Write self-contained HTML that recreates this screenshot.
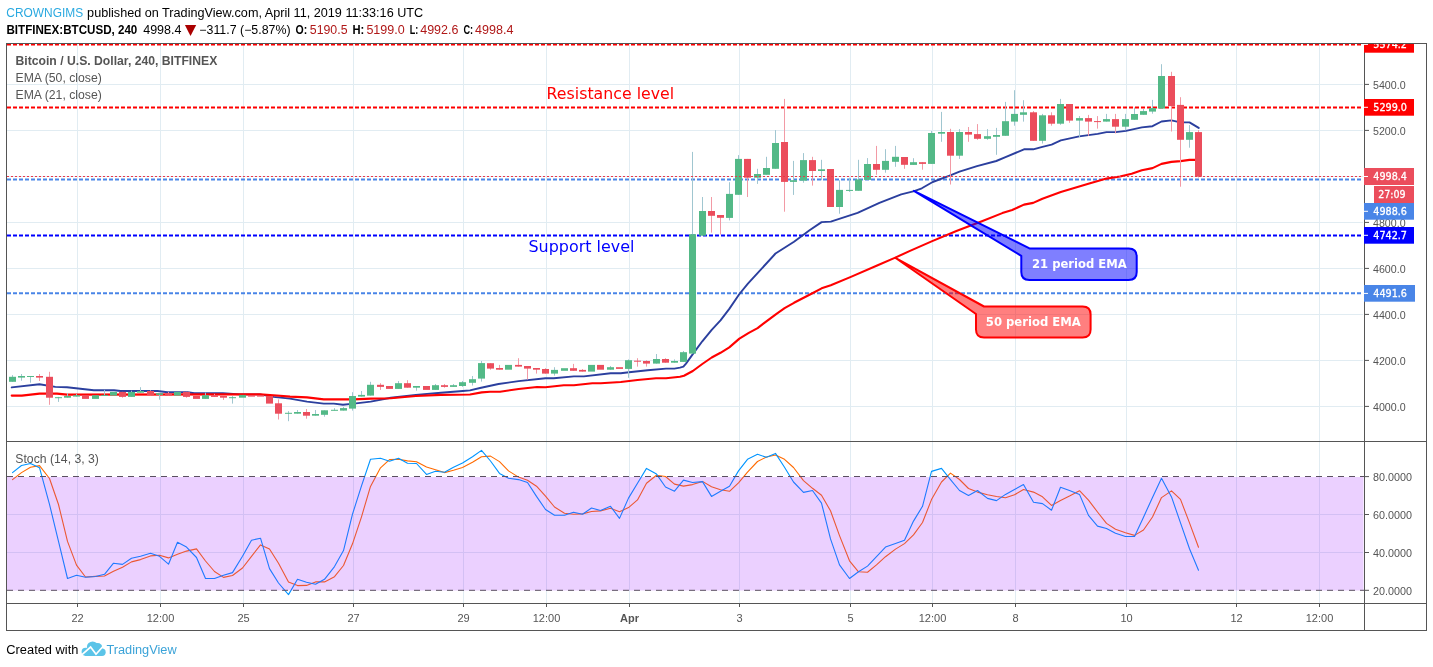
<!DOCTYPE html>
<html><head><meta charset="utf-8"><title>BTCUSD chart</title>
<style>html,body{margin:0;padding:0;background:#fff}svg{display:block}</style></head>
<body>
<svg width="1433" height="667" viewBox="0 0 1433 667">
<rect width="1433" height="667" fill="#fff"/>
<g stroke="#e1ecf2" stroke-width="1">
<line x1="77.5" y1="44" x2="77.5" y2="441"/>
<line x1="77.5" y1="442" x2="77.5" y2="603"/>
<line x1="160.5" y1="44" x2="160.5" y2="441"/>
<line x1="160.5" y1="442" x2="160.5" y2="603"/>
<line x1="243.5" y1="44" x2="243.5" y2="441"/>
<line x1="243.5" y1="442" x2="243.5" y2="603"/>
<line x1="353.5" y1="44" x2="353.5" y2="441"/>
<line x1="353.5" y1="442" x2="353.5" y2="603"/>
<line x1="463.5" y1="44" x2="463.5" y2="441"/>
<line x1="463.5" y1="442" x2="463.5" y2="603"/>
<line x1="546.5" y1="44" x2="546.5" y2="441"/>
<line x1="546.5" y1="442" x2="546.5" y2="603"/>
<line x1="629.5" y1="44" x2="629.5" y2="441"/>
<line x1="629.5" y1="442" x2="629.5" y2="603"/>
<line x1="739.5" y1="44" x2="739.5" y2="441"/>
<line x1="739.5" y1="442" x2="739.5" y2="603"/>
<line x1="850.5" y1="44" x2="850.5" y2="441"/>
<line x1="850.5" y1="442" x2="850.5" y2="603"/>
<line x1="932.5" y1="44" x2="932.5" y2="441"/>
<line x1="932.5" y1="442" x2="932.5" y2="603"/>
<line x1="1015.5" y1="44" x2="1015.5" y2="441"/>
<line x1="1015.5" y1="442" x2="1015.5" y2="603"/>
<line x1="1126.5" y1="44" x2="1126.5" y2="441"/>
<line x1="1126.5" y1="442" x2="1126.5" y2="603"/>
<line x1="1236.5" y1="44" x2="1236.5" y2="441"/>
<line x1="1236.5" y1="442" x2="1236.5" y2="603"/>
<line x1="1319.5" y1="44" x2="1319.5" y2="441"/>
<line x1="1319.5" y1="442" x2="1319.5" y2="603"/>
<line x1="7" y1="84.5" x2="1363" y2="84.5"/>
<line x1="7" y1="130.5" x2="1363" y2="130.5"/>
<line x1="7" y1="176.5" x2="1363" y2="176.5"/>
<line x1="7" y1="222.5" x2="1363" y2="222.5"/>
<line x1="7" y1="268.5" x2="1363" y2="268.5"/>
<line x1="7" y1="314.5" x2="1363" y2="314.5"/>
<line x1="7" y1="360.5" x2="1363" y2="360.5"/>
<line x1="7" y1="406.5" x2="1363" y2="406.5"/>
<line x1="7" y1="514.5" x2="1363" y2="514.5"/>
<line x1="7" y1="552.5" x2="1363" y2="552.5"/>
</g>
<polyline points="12.5,479.6 21.5,472.6 30.5,467.2 39.5,465.6 49.5,478.5 58.5,504.5 67.5,541.4 76.5,565.1 85.5,577.0 95.5,576.4 104.5,576.0 113.5,571.3 122.5,567.3 131.5,561.9 140.5,559.6 150.5,555.9 159.5,555.3 168.5,557.9 177.5,554.2 186.5,551.1 196.5,548.9 205.5,561.0 214.5,571.5 223.5,577.4 232.5,575.5 242.5,568.0 251.5,556.3 260.5,544.9 269.5,549.0 278.5,563.3 288.5,582.1 297.5,585.6 306.5,585.4 315.5,581.9 324.5,581.9 334.5,576.7 343.5,565.5 352.5,543.8 361.5,516.8 370.5,486.4 380.5,467.8 389.5,459.6 398.5,459.3 407.5,460.9 416.5,461.7 426.5,467.0 435.5,469.7 444.5,472.6 453.5,470.2 462.5,467.5 472.5,462.3 481.5,456.7 490.5,456.1 499.5,461.6 508.5,470.9 518.5,477.1 527.5,480.2 536.5,486.2 545.5,496.1 554.5,507.0 564.5,513.3 573.5,514.2 582.5,513.9 591.5,511.5 600.5,510.9 610.5,508.3 619.5,511.7 628.5,507.6 637.5,499.9 646.5,483.3 656.5,475.3 665.5,476.5 674.5,484.1 683.5,486.1 692.5,484.6 702.5,481.4 711.5,486.8 720.5,489.7 729.5,491.3 738.5,482.8 747.5,472.2 757.5,461.5 766.5,457.0 775.5,455.0 784.5,459.3 793.5,467.5 803.5,480.6 812.5,488.3 821.5,495.3 830.5,510.8 839.5,535.6 849.5,560.8 858.5,571.8 867.5,572.2 876.5,564.9 885.5,556.7 895.5,549.1 904.5,543.6 913.5,534.9 922.5,522.5 931.5,499.6 941.5,482.0 950.5,473.1 959.5,479.5 968.5,488.5 977.5,492.1 987.5,494.7 996.5,496.5 1005.5,497.8 1014.5,494.8 1023.5,489.5 1033.5,492.1 1042.5,496.8 1051.5,505.4 1060.5,500.4 1069.5,496.0 1079.5,490.7 1088.5,500.1 1097.5,512.0 1106.5,523.4 1115.5,529.3 1125.5,532.8 1134.5,535.4 1143.5,530.0 1152.5,517.0 1161.5,497.6 1171.5,490.9 1180.5,499.4 1189.5,522.9 1198.5,547.3" fill="none" stroke="#ff6a00" stroke-width="1.1" stroke-linejoin="round" stroke-linecap="round"/>
<polyline points="12.5,472.6 21.5,465.5 30.5,463.5 39.5,467.7 49.5,504.3 58.5,541.4 67.5,578.5 76.5,575.3 85.5,577.3 95.5,576.5 104.5,574.3 113.5,563.2 122.5,564.4 131.5,558.2 140.5,556.3 150.5,553.3 159.5,556.3 168.5,564.2 177.5,542.2 186.5,547.1 196.5,557.5 205.5,578.5 214.5,578.5 223.5,575.3 232.5,572.6 242.5,556.3 251.5,540.2 260.5,538.2 269.5,568.6 278.5,583.0 288.5,594.6 297.5,579.3 306.5,582.2 315.5,584.2 324.5,579.3 334.5,566.6 343.5,550.6 352.5,514.2 361.5,485.8 370.5,459.3 380.5,458.3 389.5,461.3 398.5,458.3 407.5,463.3 416.5,463.5 426.5,474.4 435.5,471.2 444.5,472.2 453.5,467.2 462.5,463.0 472.5,456.8 481.5,450.4 490.5,461.0 499.5,473.4 508.5,478.3 518.5,479.6 527.5,482.5 536.5,496.4 545.5,509.5 554.5,515.2 564.5,515.2 573.5,512.2 582.5,514.2 591.5,508.0 600.5,510.5 610.5,506.3 619.5,518.4 628.5,498.1 637.5,483.3 646.5,468.4 656.5,474.1 665.5,487.0 674.5,491.2 683.5,480.1 692.5,482.5 702.5,481.6 711.5,496.4 720.5,491.2 729.5,486.3 738.5,470.9 747.5,459.3 757.5,454.3 766.5,457.3 775.5,453.4 784.5,467.2 793.5,482.0 803.5,492.4 812.5,490.5 821.5,503.1 830.5,538.9 839.5,564.9 849.5,578.5 858.5,571.8 867.5,566.1 876.5,556.7 885.5,547.1 895.5,543.4 904.5,540.2 913.5,521.1 922.5,506.3 931.5,471.4 941.5,468.4 950.5,479.6 959.5,490.5 968.5,495.4 977.5,490.5 987.5,498.4 996.5,500.6 1005.5,494.4 1014.5,489.5 1023.5,484.5 1033.5,502.3 1042.5,503.6 1051.5,510.2 1060.5,487.2 1069.5,490.5 1079.5,494.4 1088.5,515.4 1097.5,526.1 1106.5,528.5 1115.5,533.2 1125.5,536.5 1134.5,536.5 1143.5,517.2 1152.5,497.4 1161.5,478.3 1171.5,496.9 1180.5,522.9 1189.5,548.8 1198.5,570.3" fill="none" stroke="#0094ff" stroke-width="1.1" stroke-linejoin="round" stroke-linecap="round"/>
<rect x="7" y="477" width="1356.5" height="113.5" fill="rgb(153,21,255)" fill-opacity="0.2"/>
<g stroke="#5a5060" stroke-width="1" stroke-dasharray="6 5">
<line x1="7" y1="476.5" x2="1364" y2="476.5"/>
<line x1="7" y1="590.3" x2="1364" y2="590.3"/>
</g>
<line x1="7" y1="44.5" x2="1363" y2="44.5" stroke="#ff0000" stroke-width="2" stroke-dasharray="4 2"/>
<line x1="7" y1="107.5" x2="1363" y2="107.5" stroke="#ff0000" stroke-width="2" stroke-dasharray="4 2"/>
<line x1="7" y1="235.5" x2="1363" y2="235.5" stroke="#0000ff" stroke-width="2" stroke-dasharray="4 2"/>
<line x1="7" y1="293.3" x2="1363" y2="293.3" stroke="#4985e7" stroke-width="2" stroke-dasharray="4 2"/>
<line x1="7" y1="179.4" x2="1363" y2="179.4" stroke="#4985e7" stroke-width="2" stroke-dasharray="4 2"/>
<polyline points="11.7,387.4 39.5,384.3 55.3,386.9 67.0,387.2 93.8,390.2 114.0,390.2 120.6,391.0 157.5,391.0 167.5,392.2 187.6,392.2 194.3,393.2 222.8,393.2 240.0,394.4 260.0,394.4 273.5,396.9 290.0,398.6 307.0,401.6 323.8,403.6 333.8,403.6 343.0,404.8 353.9,403.6 370.7,401.6 390.8,397.7 415.9,394.9 441.0,392.7 462.8,391.0 470.0,390.4 480.0,388.0 498.5,384.0 518.6,381.1 545.4,378.3 553.8,378.3 573.9,376.4 583.9,376.4 610.7,373.3 620.8,373.3 629.0,372.3 647.6,370.3 666.0,368.6 674.4,368.6 680.0,367.6 683.4,366.7 686.0,363.6 692.8,354.1 702.3,341.3 711.7,329.8 720.5,320.4 729.3,308.9 739.4,294.0 747.9,283.6 775.5,253.5 794.0,241.7 809.9,230.0 821.6,222.1 830.8,221.6 857.6,212.9 879.4,202.8 901.2,194.4 914.2,191.2 921.8,188.3 932.7,182.0 950.3,175.3 959.5,171.6 977.0,166.1 996.3,161.0 1005.5,157.2 1024.0,149.3 1033.2,149.3 1042.4,146.8 1051.6,144.6 1060.8,140.4 1079.2,136.4 1097.7,133.9 1106.5,132.1 1116.0,132.1 1126.0,130.9 1141.8,127.4 1152.5,126.2 1161.5,121.5 1171.4,120.4 1180.5,122.4 1189.5,122.4 1198.7,127.9" fill="none" stroke="#2b3f9e" stroke-width="1.9" stroke-linejoin="round" stroke-linecap="round"/>
<polyline points="11.7,395.6 21.8,395.6 39.5,393.6 57.0,393.6 67.0,394.6 240.0,394.4 260.0,394.4 273.5,395.2 290.0,396.6 307.0,397.4 323.8,399.4 353.9,399.4 370.7,398.6 390.8,398.2 415.9,396.0 441.0,394.9 470.0,394.5 481.7,392.4 490.0,391.7 500.0,391.7 518.6,389.0 537.0,387.0 545.4,387.3 563.8,385.3 573.9,385.3 592.3,383.3 600.7,383.3 620.8,382.0 637.5,380.0 656.0,378.3 666.0,378.3 680.0,376.7 684.0,375.7 692.8,371.0 702.3,364.0 711.7,357.5 720.5,352.8 729.3,347.4 739.4,338.6 748.8,332.9 757.6,328.1 766.4,321.3 775.8,314.3 784.6,308.2 794.0,302.8 812.4,293.3 821.6,288.3 830.8,285.3 850.9,276.9 877.7,265.2 895.3,257.6 910.0,250.9 932.2,241.1 956.4,231.0 981.9,221.3 1002.3,213.1 1012.2,210.0 1024.0,204.6 1033.2,202.9 1042.4,198.7 1060.8,192.0 1088.4,183.7 1106.5,178.6 1120.0,176.5 1131.7,173.7 1141.8,170.3 1152.5,168.1 1161.5,163.9 1171.4,161.9 1180.5,161.1 1189.5,159.9 1196.0,159.9" fill="none" stroke="#ff0000" stroke-width="2.1" stroke-linejoin="round" stroke-linecap="round"/>
<rect x="12" y="375.1" width="1" height="6.7" fill="#a0c6d0"/>
<rect x="9" y="376.8" width="7" height="5.0" fill="#53b987"/>
<rect x="21" y="374.0" width="1" height="6.7" fill="#a0c6d0"/>
<rect x="18" y="376.0" width="7" height="1.6" fill="#53b987"/>
<rect x="30" y="376.0" width="1" height="6.7" fill="#a0c6d0"/>
<rect x="27" y="376.0" width="7" height="1.0" fill="#53b987"/>
<rect x="39" y="374.0" width="1" height="7.0" fill="#f29aa5"/>
<rect x="36" y="376.0" width="7" height="1.6" fill="#eb4d5c"/>
<rect x="49" y="371.8" width="1" height="33.0" fill="#f29aa5"/>
<rect x="46" y="376.8" width="7" height="20.9" fill="#eb4d5c"/>
<rect x="58" y="396.9" width="1" height="5.0" fill="#a0c6d0"/>
<rect x="55" y="397.2" width="7" height="1.0" fill="#53b987"/>
<rect x="67" y="393.2" width="1" height="4.5" fill="#a0c6d0"/>
<rect x="64" y="396.0" width="7" height="1.7" fill="#53b987"/>
<rect x="76" y="393.9" width="1" height="2.7" fill="#a0c6d0"/>
<rect x="73" y="395.2" width="7" height="1.4" fill="#53b987"/>
<rect x="82" y="395.2" width="7" height="3.7" fill="#eb4d5c"/>
<rect x="92" y="395.2" width="7" height="3.7" fill="#53b987"/>
<rect x="104" y="389.9" width="1" height="5.7" fill="#a0c6d0"/>
<rect x="101" y="394.9" width="7" height="1.0" fill="#53b987"/>
<rect x="110" y="391.9" width="7" height="3.7" fill="#53b987"/>
<rect x="122" y="391.9" width="1" height="5.8" fill="#f29aa5"/>
<rect x="119" y="391.9" width="7" height="5.0" fill="#eb4d5c"/>
<rect x="131" y="390.7" width="1" height="6.2" fill="#a0c6d0"/>
<rect x="128" y="391.9" width="7" height="5.0" fill="#53b987"/>
<rect x="140" y="387.2" width="1" height="5.5" fill="#a0c6d0"/>
<rect x="137" y="391.0" width="7" height="1.7" fill="#53b987"/>
<rect x="150" y="390.2" width="1" height="5.0" fill="#f29aa5"/>
<rect x="147" y="391.0" width="7" height="4.2" fill="#eb4d5c"/>
<rect x="159" y="393.2" width="1" height="6.5" fill="#a0c6d0"/>
<rect x="156" y="393.2" width="7" height="1.7" fill="#53b987"/>
<rect x="168" y="391.9" width="1" height="3.7" fill="#f29aa5"/>
<rect x="165" y="393.2" width="7" height="2.4" fill="#eb4d5c"/>
<rect x="174" y="391.9" width="7" height="3.7" fill="#53b987"/>
<rect x="186" y="391.9" width="1" height="5.8" fill="#f29aa5"/>
<rect x="183" y="391.9" width="7" height="5.0" fill="#eb4d5c"/>
<rect x="193" y="396.0" width="7" height="2.9" fill="#eb4d5c"/>
<rect x="205" y="392.7" width="1" height="6.2" fill="#a0c6d0"/>
<rect x="202" y="395.2" width="7" height="3.7" fill="#53b987"/>
<rect x="214" y="393.9" width="1" height="3.0" fill="#f29aa5"/>
<rect x="211" y="395.2" width="7" height="1.7" fill="#eb4d5c"/>
<rect x="223" y="396.0" width="1" height="3.9" fill="#f29aa5"/>
<rect x="220" y="396.0" width="7" height="1.7" fill="#eb4d5c"/>
<rect x="232" y="396.0" width="1" height="7.6" fill="#a0c6d0"/>
<rect x="229" y="397.2" width="7" height="1.0" fill="#53b987"/>
<rect x="239" y="394.9" width="7" height="2.8" fill="#53b987"/>
<rect x="248" y="395.2" width="7" height="1.4" fill="#eb4d5c"/>
<rect x="257" y="395.2" width="7" height="1.4" fill="#eb4d5c"/>
<rect x="266" y="396.0" width="7" height="7.6" fill="#eb4d5c"/>
<rect x="278" y="399.4" width="1" height="20.1" fill="#f29aa5"/>
<rect x="275" y="403.3" width="7" height="10.4" fill="#eb4d5c"/>
<rect x="288" y="411.1" width="1" height="10.1" fill="#a0c6d0"/>
<rect x="285" y="412.8" width="7" height="1.0" fill="#53b987"/>
<rect x="297" y="410.0" width="1" height="3.7" fill="#a0c6d0"/>
<rect x="294" y="412.0" width="7" height="1.7" fill="#53b987"/>
<rect x="306" y="409.0" width="1" height="9.7" fill="#f29aa5"/>
<rect x="303" y="412.0" width="7" height="3.7" fill="#eb4d5c"/>
<rect x="315" y="410.0" width="1" height="5.7" fill="#a0c6d0"/>
<rect x="312" y="414.0" width="7" height="1.7" fill="#53b987"/>
<rect x="324" y="410.3" width="1" height="6.4" fill="#a0c6d0"/>
<rect x="321" y="410.3" width="7" height="4.5" fill="#53b987"/>
<rect x="334" y="408.1" width="1" height="2.5" fill="#a0c6d0"/>
<rect x="331" y="409.8" width="7" height="1.0" fill="#53b987"/>
<rect x="343" y="407.0" width="1" height="3.6" fill="#a0c6d0"/>
<rect x="340" y="408.1" width="7" height="2.5" fill="#53b987"/>
<rect x="352" y="392.2" width="1" height="18.4" fill="#a0c6d0"/>
<rect x="349" y="396.0" width="7" height="12.6" fill="#53b987"/>
<rect x="361" y="391.0" width="1" height="5.6" fill="#a0c6d0"/>
<rect x="358" y="394.9" width="7" height="1.7" fill="#53b987"/>
<rect x="370" y="381.8" width="1" height="13.8" fill="#a0c6d0"/>
<rect x="367" y="384.8" width="7" height="10.8" fill="#53b987"/>
<rect x="380" y="383.2" width="1" height="6.7" fill="#f29aa5"/>
<rect x="377" y="384.8" width="7" height="2.1" fill="#eb4d5c"/>
<rect x="386" y="386.0" width="7" height="2.9" fill="#eb4d5c"/>
<rect x="398" y="381.0" width="1" height="7.9" fill="#a0c6d0"/>
<rect x="395" y="383.2" width="7" height="5.7" fill="#53b987"/>
<rect x="407" y="380.2" width="1" height="7.5" fill="#f29aa5"/>
<rect x="404" y="383.2" width="7" height="4.5" fill="#eb4d5c"/>
<rect x="416" y="386.0" width="1" height="4.7" fill="#a0c6d0"/>
<rect x="413" y="386.0" width="7" height="1.7" fill="#53b987"/>
<rect x="423" y="386.0" width="7" height="3.9" fill="#eb4d5c"/>
<rect x="435" y="384.0" width="1" height="5.9" fill="#a0c6d0"/>
<rect x="432" y="385.2" width="7" height="4.7" fill="#53b987"/>
<rect x="444" y="384.0" width="1" height="3.7" fill="#f29aa5"/>
<rect x="441" y="385.2" width="7" height="1.7" fill="#eb4d5c"/>
<rect x="453" y="384.0" width="1" height="2.9" fill="#a0c6d0"/>
<rect x="450" y="385.2" width="7" height="1.7" fill="#53b987"/>
<rect x="462" y="381.0" width="1" height="5.9" fill="#a0c6d0"/>
<rect x="459" y="382.2" width="7" height="3.8" fill="#53b987"/>
<rect x="472" y="376.0" width="1" height="9.5" fill="#a0c6d0"/>
<rect x="469" y="379.2" width="7" height="3.6" fill="#53b987"/>
<rect x="481" y="361.0" width="1" height="20.6" fill="#a0c6d0"/>
<rect x="478" y="363.1" width="7" height="15.5" fill="#53b987"/>
<rect x="490" y="363.2" width="1" height="6.5" fill="#f29aa5"/>
<rect x="487" y="363.2" width="7" height="5.4" fill="#eb4d5c"/>
<rect x="499" y="364.9" width="1" height="4.8" fill="#f29aa5"/>
<rect x="496" y="368.0" width="7" height="1.7" fill="#eb4d5c"/>
<rect x="505" y="364.9" width="7" height="4.8" fill="#53b987"/>
<rect x="518" y="358.2" width="1" height="8.4" fill="#f29aa5"/>
<rect x="515" y="364.9" width="7" height="1.7" fill="#eb4d5c"/>
<rect x="527" y="366.0" width="1" height="13.5" fill="#f29aa5"/>
<rect x="524" y="366.0" width="7" height="2.6" fill="#eb4d5c"/>
<rect x="536" y="368.0" width="1" height="5.6" fill="#f29aa5"/>
<rect x="533" y="368.0" width="7" height="1.7" fill="#eb4d5c"/>
<rect x="545" y="368.2" width="1" height="5.4" fill="#f29aa5"/>
<rect x="542" y="369.0" width="7" height="4.6" fill="#eb4d5c"/>
<rect x="554" y="367.2" width="1" height="8.4" fill="#a0c6d0"/>
<rect x="551" y="369.9" width="7" height="3.7" fill="#53b987"/>
<rect x="561" y="368.2" width="7" height="2.6" fill="#53b987"/>
<rect x="573" y="363.9" width="1" height="6.9" fill="#f29aa5"/>
<rect x="570" y="368.2" width="7" height="2.6" fill="#eb4d5c"/>
<rect x="582" y="369.1" width="1" height="2.5" fill="#f29aa5"/>
<rect x="579" y="369.9" width="7" height="1.7" fill="#eb4d5c"/>
<rect x="588" y="364.9" width="7" height="6.7" fill="#53b987"/>
<rect x="597" y="364.9" width="7" height="4.8" fill="#eb4d5c"/>
<rect x="610" y="366.0" width="1" height="3.7" fill="#a0c6d0"/>
<rect x="607" y="367.2" width="7" height="2.5" fill="#53b987"/>
<rect x="616" y="367.2" width="7" height="1.7" fill="#eb4d5c"/>
<rect x="628" y="359.4" width="1" height="18.4" fill="#a0c6d0"/>
<rect x="625" y="360.2" width="7" height="8.7" fill="#53b987"/>
<rect x="637" y="358.2" width="1" height="8.4" fill="#f29aa5"/>
<rect x="634" y="360.7" width="7" height="1.0" fill="#eb4d5c"/>
<rect x="646" y="360.2" width="1" height="6.4" fill="#f29aa5"/>
<rect x="643" y="361.0" width="7" height="2.6" fill="#eb4d5c"/>
<rect x="656" y="354.0" width="1" height="9.6" fill="#a0c6d0"/>
<rect x="653" y="359.0" width="7" height="4.6" fill="#53b987"/>
<rect x="665" y="358.2" width="1" height="4.5" fill="#f29aa5"/>
<rect x="662" y="359.0" width="7" height="3.7" fill="#eb4d5c"/>
<rect x="674" y="359.4" width="1" height="3.3" fill="#a0c6d0"/>
<rect x="671" y="361.0" width="7" height="1.7" fill="#53b987"/>
<rect x="683" y="351.0" width="1" height="10.9" fill="#a0c6d0"/>
<rect x="680" y="352.2" width="7" height="9.7" fill="#53b987"/>
<rect x="692" y="151.9" width="1" height="201.7" fill="#a0c6d0"/>
<rect x="689" y="234.2" width="7" height="119.4" fill="#53b987"/>
<rect x="702" y="197.0" width="1" height="38.7" fill="#a0c6d0"/>
<rect x="699" y="211.0" width="7" height="24.7" fill="#53b987"/>
<rect x="711" y="197.0" width="1" height="35.6" fill="#f29aa5"/>
<rect x="708" y="211.0" width="7" height="4.8" fill="#eb4d5c"/>
<rect x="720" y="215.0" width="1" height="19.5" fill="#f29aa5"/>
<rect x="717" y="215.0" width="7" height="2.8" fill="#eb4d5c"/>
<rect x="729" y="182.2" width="1" height="38.2" fill="#a0c6d0"/>
<rect x="726" y="193.9" width="7" height="24.0" fill="#53b987"/>
<rect x="738" y="155.1" width="1" height="39.7" fill="#a0c6d0"/>
<rect x="735" y="158.9" width="7" height="35.9" fill="#53b987"/>
<rect x="747" y="158.9" width="1" height="38.1" fill="#f29aa5"/>
<rect x="744" y="158.9" width="7" height="18.8" fill="#eb4d5c"/>
<rect x="757" y="168.8" width="1" height="15.1" fill="#a0c6d0"/>
<rect x="754" y="174.0" width="7" height="3.7" fill="#53b987"/>
<rect x="766" y="156.8" width="1" height="18.0" fill="#a0c6d0"/>
<rect x="763" y="168.0" width="7" height="6.8" fill="#53b987"/>
<rect x="775" y="130.1" width="1" height="38.7" fill="#a0c6d0"/>
<rect x="772" y="143.0" width="7" height="25.8" fill="#53b987"/>
<rect x="784" y="98.9" width="1" height="112.8" fill="#f29aa5"/>
<rect x="781" y="142.0" width="7" height="39.9" fill="#eb4d5c"/>
<rect x="793" y="160.9" width="1" height="34.0" fill="#a0c6d0"/>
<rect x="790" y="180.2" width="7" height="1.7" fill="#53b987"/>
<rect x="803" y="153.1" width="1" height="29.6" fill="#a0c6d0"/>
<rect x="800" y="160.1" width="7" height="20.6" fill="#53b987"/>
<rect x="812" y="156.8" width="1" height="28.8" fill="#f29aa5"/>
<rect x="809" y="160.1" width="7" height="10.9" fill="#eb4d5c"/>
<rect x="821" y="159.8" width="1" height="20.4" fill="#a0c6d0"/>
<rect x="818" y="169.3" width="7" height="1.7" fill="#53b987"/>
<rect x="827" y="169.0" width="7" height="38.0" fill="#eb4d5c"/>
<rect x="839" y="180.2" width="1" height="33.5" fill="#a0c6d0"/>
<rect x="836" y="189.9" width="7" height="17.1" fill="#53b987"/>
<rect x="849" y="177.7" width="1" height="14.2" fill="#a0c6d0"/>
<rect x="846" y="189.9" width="7" height="1.0" fill="#53b987"/>
<rect x="858" y="159.8" width="1" height="31.0" fill="#a0c6d0"/>
<rect x="855" y="179.4" width="7" height="11.4" fill="#53b987"/>
<rect x="867" y="158.1" width="1" height="21.8" fill="#a0c6d0"/>
<rect x="864" y="164.0" width="7" height="15.9" fill="#53b987"/>
<rect x="876" y="145.9" width="1" height="28.9" fill="#f29aa5"/>
<rect x="873" y="164.0" width="7" height="5.8" fill="#eb4d5c"/>
<rect x="885" y="149.2" width="1" height="23.5" fill="#a0c6d0"/>
<rect x="882" y="160.9" width="7" height="8.9" fill="#53b987"/>
<rect x="895" y="145.9" width="1" height="20.9" fill="#a0c6d0"/>
<rect x="892" y="156.8" width="7" height="5.0" fill="#53b987"/>
<rect x="904" y="157.0" width="1" height="11.8" fill="#f29aa5"/>
<rect x="901" y="157.0" width="7" height="7.8" fill="#eb4d5c"/>
<rect x="913" y="158.2" width="1" height="6.7" fill="#a0c6d0"/>
<rect x="910" y="162.2" width="7" height="2.7" fill="#53b987"/>
<rect x="922" y="162.2" width="1" height="7.5" fill="#f29aa5"/>
<rect x="919" y="162.2" width="7" height="1.7" fill="#eb4d5c"/>
<rect x="931" y="131.0" width="1" height="32.9" fill="#a0c6d0"/>
<rect x="928" y="133.0" width="7" height="30.9" fill="#53b987"/>
<rect x="941" y="111.9" width="1" height="29.9" fill="#a0c6d0"/>
<rect x="938" y="132.0" width="7" height="1.7" fill="#53b987"/>
<rect x="950" y="128.8" width="1" height="55.7" fill="#f29aa5"/>
<rect x="947" y="132.0" width="7" height="23.7" fill="#eb4d5c"/>
<rect x="959" y="129.1" width="1" height="29.8" fill="#a0c6d0"/>
<rect x="956" y="132.0" width="7" height="23.7" fill="#53b987"/>
<rect x="968" y="127.0" width="1" height="14.8" fill="#f29aa5"/>
<rect x="965" y="132.0" width="7" height="2.6" fill="#eb4d5c"/>
<rect x="977" y="124.1" width="1" height="15.7" fill="#f29aa5"/>
<rect x="974" y="134.1" width="7" height="4.7" fill="#eb4d5c"/>
<rect x="987" y="129.1" width="1" height="10.7" fill="#a0c6d0"/>
<rect x="984" y="136.2" width="7" height="2.6" fill="#53b987"/>
<rect x="996" y="127.9" width="1" height="26.9" fill="#a0c6d0"/>
<rect x="993" y="135.0" width="7" height="1.8" fill="#53b987"/>
<rect x="1005" y="101.9" width="1" height="33.9" fill="#a0c6d0"/>
<rect x="1002" y="121.2" width="7" height="14.6" fill="#53b987"/>
<rect x="1014" y="90.2" width="1" height="35.5" fill="#a0c6d0"/>
<rect x="1011" y="113.9" width="7" height="7.7" fill="#53b987"/>
<rect x="1023" y="100.2" width="1" height="21.4" fill="#a0c6d0"/>
<rect x="1020" y="112.3" width="7" height="2.5" fill="#53b987"/>
<rect x="1033" y="111.1" width="1" height="29.7" fill="#f29aa5"/>
<rect x="1030" y="112.3" width="7" height="28.5" fill="#eb4d5c"/>
<rect x="1042" y="113.9" width="1" height="29.6" fill="#a0c6d0"/>
<rect x="1039" y="115.3" width="7" height="25.5" fill="#53b987"/>
<rect x="1051" y="112.3" width="1" height="13.4" fill="#f29aa5"/>
<rect x="1048" y="115.3" width="7" height="8.4" fill="#eb4d5c"/>
<rect x="1060" y="98.9" width="1" height="25.9" fill="#a0c6d0"/>
<rect x="1057" y="104.0" width="7" height="19.7" fill="#53b987"/>
<rect x="1069" y="104.0" width="1" height="18.8" fill="#f29aa5"/>
<rect x="1066" y="104.0" width="7" height="16.6" fill="#eb4d5c"/>
<rect x="1079" y="116.1" width="1" height="20.9" fill="#a0c6d0"/>
<rect x="1076" y="118.1" width="7" height="2.5" fill="#53b987"/>
<rect x="1088" y="114.9" width="1" height="20.9" fill="#f29aa5"/>
<rect x="1085" y="118.1" width="7" height="3.5" fill="#eb4d5c"/>
<rect x="1097" y="116.1" width="1" height="12.5" fill="#f29aa5"/>
<rect x="1094" y="121.1" width="7" height="1.0" fill="#eb4d5c"/>
<rect x="1106" y="113.9" width="1" height="7.7" fill="#a0c6d0"/>
<rect x="1103" y="119.1" width="7" height="2.5" fill="#53b987"/>
<rect x="1115" y="113.9" width="1" height="19.5" fill="#f29aa5"/>
<rect x="1112" y="119.1" width="7" height="7.6" fill="#eb4d5c"/>
<rect x="1125" y="113.9" width="1" height="16.3" fill="#a0c6d0"/>
<rect x="1122" y="119.1" width="7" height="7.6" fill="#53b987"/>
<rect x="1134" y="107.5" width="1" height="12.3" fill="#a0c6d0"/>
<rect x="1131" y="114.0" width="7" height="5.8" fill="#53b987"/>
<rect x="1143" y="109.0" width="1" height="5.8" fill="#a0c6d0"/>
<rect x="1140" y="111.1" width="7" height="3.7" fill="#53b987"/>
<rect x="1152" y="99.9" width="1" height="13.8" fill="#a0c6d0"/>
<rect x="1149" y="108.1" width="7" height="3.5" fill="#53b987"/>
<rect x="1161" y="64.2" width="1" height="44.4" fill="#a0c6d0"/>
<rect x="1158" y="76.0" width="7" height="32.6" fill="#53b987"/>
<rect x="1171" y="71.8" width="1" height="59.7" fill="#f29aa5"/>
<rect x="1168" y="76.0" width="7" height="30.1" fill="#eb4d5c"/>
<rect x="1180" y="97.2" width="1" height="89.5" fill="#f29aa5"/>
<rect x="1177" y="104.9" width="7" height="34.9" fill="#eb4d5c"/>
<rect x="1189" y="125.1" width="1" height="22.6" fill="#a0c6d0"/>
<rect x="1186" y="132.1" width="7" height="7.7" fill="#53b987"/>
<rect x="1198" y="130.1" width="1" height="47.4" fill="#f29aa5"/>
<rect x="1195" y="132.1" width="7" height="44.6" fill="#eb4d5c"/>
<line x1="7" y1="176.5" x2="1363" y2="176.5" stroke="#e8394a" stroke-width="1.2" stroke-dasharray="2 2"/>
<path d="M1029.5,248.4 L1128.7,248.4 Q1136.7,248.4 1136.7,256.4 L1136.7,272.1 Q1136.7,280.1 1128.7,280.1 L1029.3,280.1 Q1021.3,280.1 1021.3,272.1 L1021.3,255.9 L913.9,190.9 Z" fill="#0000ff" fill-opacity="0.5" stroke="#0000ff" stroke-width="2" stroke-linejoin="round"/>
<text x="1032.0" y="267.7" font-family="DejaVu Sans, Verdana, sans-serif" font-size="12" font-weight="bold" fill="#fff" text-anchor="start" textLength="94.7" lengthAdjust="spacingAndGlyphs">21 period EMA</text>
<path d="M984.0,306.5 L1082.6,306.5 Q1090.6,306.5 1090.6,314.5 L1090.6,329.6 Q1090.6,337.6 1082.6,337.6 L984.0,337.6 Q976.0,337.6 976.0,329.6 L976.0,314.0 L895.3,257.8 Z" fill="#ff0000" fill-opacity="0.5" stroke="#ff0000" stroke-width="2" stroke-linejoin="round"/>
<text x="985.8" y="325.7" font-family="DejaVu Sans, Verdana, sans-serif" font-size="12" font-weight="bold" fill="#fff" text-anchor="start" textLength="95.0" lengthAdjust="spacingAndGlyphs">50 period EMA</text>
<text x="546.6" y="98.8" font-family="DejaVu Sans, Verdana, sans-serif" font-size="16.5" font-weight="normal" fill="#ff0000" text-anchor="start" textLength="127.6" lengthAdjust="spacingAndGlyphs">Resistance level</text>
<text x="528.5" y="251.9" font-family="DejaVu Sans, Verdana, sans-serif" font-size="16.5" font-weight="normal" fill="#0000ff" text-anchor="start" textLength="106.0" lengthAdjust="spacingAndGlyphs">Support level</text>
<text x="15.5" y="64.8" font-family="Liberation Sans, Arial, sans-serif" font-size="12" font-weight="bold" fill="#555" text-anchor="start" textLength="201.8" lengthAdjust="spacingAndGlyphs">Bitcoin / U.S. Dollar, 240, BITFINEX</text>
<text x="15.5" y="82.2" font-family="Liberation Sans, Arial, sans-serif" font-size="12" font-weight="normal" fill="#555" text-anchor="start" textLength="86.3" lengthAdjust="spacingAndGlyphs">EMA (50, close)</text>
<text x="15.5" y="98.7" font-family="Liberation Sans, Arial, sans-serif" font-size="12" font-weight="normal" fill="#555" text-anchor="start" textLength="86.3" lengthAdjust="spacingAndGlyphs">EMA (21, close)</text>
<text x="15.3" y="462.5" font-family="Liberation Sans, Arial, sans-serif" font-size="12" font-weight="normal" fill="#555" text-anchor="start" textLength="83.6" lengthAdjust="spacingAndGlyphs">Stoch (14, 3, 3)</text>
<g fill="#555">
<rect x="6" y="43" width="1421" height="1"/>
<rect x="6" y="43" width="1" height="588"/>
<rect x="1426" y="43" width="1" height="588"/>
<rect x="6" y="630" width="1421" height="1"/>
<rect x="1364" y="43" width="1" height="588"/>
<rect x="6" y="441" width="1421" height="1"/>
<rect x="6" y="603" width="1421" height="1"/>
</g>
<g fill="#555">
<rect x="1365" y="83.9" width="4" height="1"/>
<rect x="1365" y="129.9" width="4" height="1"/>
<rect x="1365" y="221.9" width="4" height="1"/>
<rect x="1365" y="267.9" width="4" height="1"/>
<rect x="1365" y="313.9" width="4" height="1"/>
<rect x="1365" y="359.9" width="4" height="1"/>
<rect x="1365" y="405.9" width="4" height="1"/>
<rect x="1365" y="476.1" width="4" height="1"/>
<rect x="1365" y="514.0" width="4" height="1"/>
<rect x="1365" y="552.0" width="4" height="1"/>
<rect x="1365" y="589.8" width="4" height="1"/>
<rect x="77.0" y="604" width="1" height="3"/>
<rect x="160.0" y="604" width="1" height="3"/>
<rect x="243.0" y="604" width="1" height="3"/>
<rect x="353.0" y="604" width="1" height="3"/>
<rect x="463.0" y="604" width="1" height="3"/>
<rect x="546.0" y="604" width="1" height="3"/>
<rect x="629.0" y="604" width="1" height="3"/>
<rect x="739.0" y="604" width="1" height="3"/>
<rect x="850.0" y="604" width="1" height="3"/>
<rect x="932.0" y="604" width="1" height="3"/>
<rect x="1015.0" y="604" width="1" height="3"/>
<rect x="1126.0" y="604" width="1" height="3"/>
<rect x="1236.0" y="604" width="1" height="3"/>
<rect x="1319.0" y="604" width="1" height="3"/>
</g>
<text x="1373.0" y="88.8" font-family="Liberation Sans, Arial, sans-serif" font-size="11.2" font-weight="normal" fill="#555" text-anchor="start" textLength="32.6" lengthAdjust="spacingAndGlyphs">5400.0</text>
<text x="1373.0" y="134.8" font-family="Liberation Sans, Arial, sans-serif" font-size="11.2" font-weight="normal" fill="#555" text-anchor="start" textLength="32.6" lengthAdjust="spacingAndGlyphs">5200.0</text>
<text x="1373.0" y="226.8" font-family="Liberation Sans, Arial, sans-serif" font-size="11.2" font-weight="normal" fill="#555" text-anchor="start" textLength="32.6" lengthAdjust="spacingAndGlyphs">4800.0</text>
<text x="1373.0" y="272.8" font-family="Liberation Sans, Arial, sans-serif" font-size="11.2" font-weight="normal" fill="#555" text-anchor="start" textLength="32.6" lengthAdjust="spacingAndGlyphs">4600.0</text>
<text x="1373.0" y="318.8" font-family="Liberation Sans, Arial, sans-serif" font-size="11.2" font-weight="normal" fill="#555" text-anchor="start" textLength="32.6" lengthAdjust="spacingAndGlyphs">4400.0</text>
<text x="1373.0" y="364.8" font-family="Liberation Sans, Arial, sans-serif" font-size="11.2" font-weight="normal" fill="#555" text-anchor="start" textLength="32.6" lengthAdjust="spacingAndGlyphs">4200.0</text>
<text x="1373.0" y="410.8" font-family="Liberation Sans, Arial, sans-serif" font-size="11.2" font-weight="normal" fill="#555" text-anchor="start" textLength="32.6" lengthAdjust="spacingAndGlyphs">4000.0</text>
<text x="1373.0" y="481.0" font-family="Liberation Sans, Arial, sans-serif" font-size="11.2" font-weight="normal" fill="#555" text-anchor="start" textLength="39.0" lengthAdjust="spacingAndGlyphs">80.0000</text>
<text x="1373.0" y="518.9" font-family="Liberation Sans, Arial, sans-serif" font-size="11.2" font-weight="normal" fill="#555" text-anchor="start" textLength="39.0" lengthAdjust="spacingAndGlyphs">60.0000</text>
<text x="1373.0" y="556.9" font-family="Liberation Sans, Arial, sans-serif" font-size="11.2" font-weight="normal" fill="#555" text-anchor="start" textLength="39.0" lengthAdjust="spacingAndGlyphs">40.0000</text>
<text x="1373.0" y="594.7" font-family="Liberation Sans, Arial, sans-serif" font-size="11.2" font-weight="normal" fill="#555" text-anchor="start" textLength="39.0" lengthAdjust="spacingAndGlyphs">20.0000</text>
<clipPath id="cp"><rect x="7" y="44" width="1419" height="397"/></clipPath>
<g clip-path="url(#cp)">
<rect x="1364" y="36" width="50" height="16.700000000000003" fill="#ff0000"/>
<rect x="1364" y="43.9" width="4" height="1" fill="#fff"/>
<text x="1373.3" y="48.1" font-family="DejaVu Sans, Verdana, sans-serif" font-size="10" font-weight="normal" fill="#fff" text-anchor="start" textLength="33.7" lengthAdjust="spacingAndGlyphs" stroke="#fff" stroke-width="0.3">5574.2</text>
</g>
<rect x="1364" y="99" width="50" height="16.700000000000003" fill="#ff0000"/>
<rect x="1364" y="106.8" width="4" height="1" fill="#fff"/>
<text x="1373.3" y="111.0" font-family="DejaVu Sans, Verdana, sans-serif" font-size="10" font-weight="normal" fill="#fff" text-anchor="start" textLength="33.7" lengthAdjust="spacingAndGlyphs" stroke="#fff" stroke-width="0.3">5299.0</text>
<rect x="1364" y="168" width="50" height="17" fill="#eb4d5c"/>
<rect x="1364" y="176.0" width="4" height="1" fill="#fff"/>
<text x="1373.3" y="180.2" font-family="DejaVu Sans, Verdana, sans-serif" font-size="10" font-weight="normal" fill="#fff" text-anchor="start" textLength="33.7" lengthAdjust="spacingAndGlyphs" stroke="#fff" stroke-width="0.3">4998.4</text>
<rect x="1374" y="186" width="40" height="17" fill="#eb4d5c"/>
<text x="1378.2" y="198.2" font-family="DejaVu Sans, Verdana, sans-serif" font-size="10" font-weight="normal" fill="#fff" text-anchor="start" textLength="27.4" lengthAdjust="spacingAndGlyphs" stroke="#fff" stroke-width="0.3">27:09</text>
<rect x="1364" y="203" width="50" height="16.69999999999999" fill="#4985e7"/>
<rect x="1364" y="210.8" width="4" height="1" fill="#fff"/>
<text x="1373.3" y="215.0" font-family="DejaVu Sans, Verdana, sans-serif" font-size="10" font-weight="normal" fill="#fff" text-anchor="start" textLength="33.7" lengthAdjust="spacingAndGlyphs" stroke="#fff" stroke-width="0.3">4988.6</text>
<rect x="1364" y="227" width="50" height="16.69999999999999" fill="#0000ff"/>
<rect x="1364" y="234.8" width="4" height="1" fill="#fff"/>
<text x="1373.3" y="239.0" font-family="DejaVu Sans, Verdana, sans-serif" font-size="10" font-weight="normal" fill="#fff" text-anchor="start" textLength="33.7" lengthAdjust="spacingAndGlyphs" stroke="#fff" stroke-width="0.3">4742.7</text>
<rect x="1364" y="285" width="51" height="16.69999999999999" fill="#4985e7"/>
<rect x="1364" y="292.9" width="4" height="1" fill="#fff"/>
<text x="1373.3" y="297.1" font-family="DejaVu Sans, Verdana, sans-serif" font-size="10" font-weight="normal" fill="#fff" text-anchor="start" textLength="33.7" lengthAdjust="spacingAndGlyphs" stroke="#fff" stroke-width="0.3">4491.6</text>
<text x="77.5" y="621.9" font-family="Liberation Sans, Arial, sans-serif" font-size="11" font-weight="normal" fill="#555" text-anchor="middle">22</text>
<text x="160.5" y="621.9" font-family="Liberation Sans, Arial, sans-serif" font-size="11" font-weight="normal" fill="#555" text-anchor="middle">12:00</text>
<text x="243.5" y="621.9" font-family="Liberation Sans, Arial, sans-serif" font-size="11" font-weight="normal" fill="#555" text-anchor="middle">25</text>
<text x="353.5" y="621.9" font-family="Liberation Sans, Arial, sans-serif" font-size="11" font-weight="normal" fill="#555" text-anchor="middle">27</text>
<text x="463.5" y="621.9" font-family="Liberation Sans, Arial, sans-serif" font-size="11" font-weight="normal" fill="#555" text-anchor="middle">29</text>
<text x="546.5" y="621.9" font-family="Liberation Sans, Arial, sans-serif" font-size="11" font-weight="normal" fill="#555" text-anchor="middle">12:00</text>
<text x="629.5" y="621.9" font-family="Liberation Sans, Arial, sans-serif" font-size="11" font-weight="bold" fill="#555" text-anchor="middle">Apr</text>
<text x="739.5" y="621.9" font-family="Liberation Sans, Arial, sans-serif" font-size="11" font-weight="normal" fill="#555" text-anchor="middle">3</text>
<text x="850.5" y="621.9" font-family="Liberation Sans, Arial, sans-serif" font-size="11" font-weight="normal" fill="#555" text-anchor="middle">5</text>
<text x="932.5" y="621.9" font-family="Liberation Sans, Arial, sans-serif" font-size="11" font-weight="normal" fill="#555" text-anchor="middle">12:00</text>
<text x="1015.5" y="621.9" font-family="Liberation Sans, Arial, sans-serif" font-size="11" font-weight="normal" fill="#555" text-anchor="middle">8</text>
<text x="1126.5" y="621.9" font-family="Liberation Sans, Arial, sans-serif" font-size="11" font-weight="normal" fill="#555" text-anchor="middle">10</text>
<text x="1236.5" y="621.9" font-family="Liberation Sans, Arial, sans-serif" font-size="11" font-weight="normal" fill="#555" text-anchor="middle">12</text>
<text x="1319.5" y="621.9" font-family="Liberation Sans, Arial, sans-serif" font-size="11" font-weight="normal" fill="#555" text-anchor="middle">12:00</text>
<text x="6.3" y="16.8" font-family="Liberation Sans, Arial, sans-serif" font-size="12" font-weight="normal" fill="#2aa9e0" text-anchor="start" textLength="76.8" lengthAdjust="spacingAndGlyphs">CROWNGIMS</text>
<text x="87.1" y="16.8" font-family="Liberation Sans, Arial, sans-serif" font-size="12" font-weight="normal" fill="#000" text-anchor="start" textLength="336.1" lengthAdjust="spacingAndGlyphs">published on TradingView.com, April 11, 2019 11:33:16 UTC</text>
<text x="6.5" y="33.8" font-family="Liberation Sans, Arial, sans-serif" font-size="12" font-weight="bold" fill="#000" text-anchor="start" textLength="130.8" lengthAdjust="spacingAndGlyphs">BITFINEX:BTCUSD, 240</text>
<text x="143.2" y="33.8" font-family="Liberation Sans, Arial, sans-serif" font-size="12" font-weight="normal" fill="#000" text-anchor="start" textLength="38.2" lengthAdjust="spacingAndGlyphs">4998.4</text>
<path d="M184.9,24.9 L196.2,24.9 L190.5,36 Z" fill="#aa0000"/>
<text x="199.3" y="33.8" font-family="Liberation Sans, Arial, sans-serif" font-size="12" font-weight="normal" fill="#000" text-anchor="start" textLength="91.3" lengthAdjust="spacingAndGlyphs">−311.7 (−5.87%)</text>
<text x="295.6" y="33.8" font-family="Liberation Sans, Arial, sans-serif" font-size="12" font-weight="bold" fill="#000" text-anchor="start" textLength="11.7" lengthAdjust="spacingAndGlyphs">O:</text>
<text x="309.8" y="33.8" font-family="Liberation Sans, Arial, sans-serif" font-size="12" font-weight="normal" fill="#b01818" text-anchor="start" textLength="37.7" lengthAdjust="spacingAndGlyphs">5190.5</text>
<text x="352.5" y="33.8" font-family="Liberation Sans, Arial, sans-serif" font-size="12" font-weight="bold" fill="#000" text-anchor="start" textLength="11.8" lengthAdjust="spacingAndGlyphs">H:</text>
<text x="366.4" y="33.8" font-family="Liberation Sans, Arial, sans-serif" font-size="12" font-weight="normal" fill="#b01818" text-anchor="start" textLength="38.3" lengthAdjust="spacingAndGlyphs">5199.0</text>
<text x="409.7" y="33.8" font-family="Liberation Sans, Arial, sans-serif" font-size="12" font-weight="bold" fill="#000" text-anchor="start" textLength="8.5" lengthAdjust="spacingAndGlyphs">L:</text>
<text x="420.2" y="33.8" font-family="Liberation Sans, Arial, sans-serif" font-size="12" font-weight="normal" fill="#b01818" text-anchor="start" textLength="38.2" lengthAdjust="spacingAndGlyphs">4992.6</text>
<text x="463.4" y="33.8" font-family="Liberation Sans, Arial, sans-serif" font-size="12" font-weight="bold" fill="#000" text-anchor="start" textLength="9.7" lengthAdjust="spacingAndGlyphs">C:</text>
<text x="475.1" y="33.8" font-family="Liberation Sans, Arial, sans-serif" font-size="12" font-weight="normal" fill="#b01818" text-anchor="start" textLength="38.4" lengthAdjust="spacingAndGlyphs">4998.4</text>
<text x="6.3" y="653.6" font-family="Liberation Sans, Arial, sans-serif" font-size="12" font-weight="normal" fill="#000" text-anchor="start" textLength="72.1" lengthAdjust="spacingAndGlyphs">Created with</text>
<text x="106.4" y="653.6" font-family="Liberation Sans, Arial, sans-serif" font-size="12" font-weight="normal" fill="#3ba3d8" text-anchor="start" textLength="70.3" lengthAdjust="spacingAndGlyphs">TradingView</text>
<g fill="#5bc4e8">
<circle cx="85.7" cy="651.8" r="4.1"/>
<circle cx="92.6" cy="647.1" r="5.7"/>
<circle cx="97.6" cy="648" r="4.9"/>
<circle cx="102" cy="652.3" r="3.7"/>
<rect x="85" y="649" width="17" height="7"/>
</g>
<polyline points="82,654.6 90.6,647 96,654.2 103.4,646" fill="none" stroke="#fff" stroke-width="1.7" stroke-linejoin="miter"/>
</svg>
</body></html>
